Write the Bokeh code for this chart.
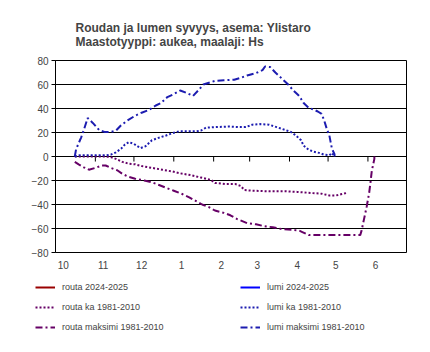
from bokeh.plotting import figure
from bokeh.layouts import column
from bokeh.models import FixedTicker, Legend, LegendItem, Range1d
from bokeh.embed import file_html
from bokeh.resources import INLINE

title_lines = ["Roudan ja lumen syvyys, asema: Ylistaro", "Maastotyyppi: aukea, maalaji: Hs"]

# x = days since 1 October
month_start_days = [0, 31, 61, 92, 123, 151, 182, 212, 243, 273]
month_labels = ["10", "11", "12", "1", "2", "3", "4", "5", "6"]
y_ticks = [-80, -60, -40, -20, 0, 20, 40, 60, 80]

series_names = ["routa 2024-2025", "lumi 2024-2025", "routa ka 1981-2010",
                "lumi ka 1981-2010", "routa maksimi 1981-2010", "lumi maksimi 1981-2010"]

# current season: no observations drawn in the chart (missing values)
routa_2024_day = [0]
routa_2024 = [float("nan")]
lumi_2024_day = [0]
lumi_2024 = [float("nan")]

lumi_ka_day = [15, 19, 27, 39, 43, 47, 51, 54, 57, 61, 66, 70, 75, 80, 86, 91, 96, 101, 109, 113,
               117, 124, 135, 143, 148, 153, 159, 166, 172, 179, 183, 187, 191, 193, 197, 201,
               205, 209, 213, 215, 217]
lumi_ka = [0, 1, 1, 1, 1.5, 3.5, 6.5, 10, 12, 10.5, 7, 8.5, 13.5, 15.5, 17.5, 19.5, 21, 21, 21, 21.5,
           24, 24.5, 25, 24.5, 24.5, 26.5, 27, 26.5, 24.5, 22, 20.5, 17.5, 13.5, 9, 5.5, 4,
           3, 1.5, 1, 3, 0]

lumi_max_day = [15, 16, 20, 22, 25, 27, 29, 34, 38, 43, 47, 51, 56, 62, 67, 73, 78, 82, 87, 92,
                97, 102, 107, 111, 115, 121, 124, 131, 139, 144, 149, 156, 161, 163, 167, 171,
                176, 181, 185, 189, 191, 193, 197, 201, 204, 207, 209, 211, 213, 214, 215, 217, 217]
lumi_max = [0, 6, 16, 22, 32, 30, 28, 22, 20.5, 20.5, 21.5, 26, 30, 34, 36.5, 39, 42.5, 44.5, 49.5, 52,
            55, 53, 50.5, 55, 60, 62, 63, 63.5, 64, 65.5, 67.5, 69.5, 72, 75, 74.5, 70,
            65, 60, 55, 51, 48, 44.5, 40.5, 39, 37.5, 35.5, 30, 23, 17.5, 12, 6.5, 2, 0]

routa_ka_day = [15, 27, 39, 43, 47, 52, 57, 62, 67, 75, 83, 91, 97, 105, 113, 121, 124, 132, 140,
                144, 147, 153, 166, 179, 188, 200, 207, 213, 218, 222, 226]
routa_ka = [0, 0, 0, -0.5, -2, -4.5, -6, -6.5, -8, -9.5, -11, -12.5, -14, -15.5, -17.5, -19.5, -22, -23, -23,
            -24.5, -28, -28.5, -29, -29, -29.5, -30.5, -31, -32.5, -32.5, -31.5, -30.5]

routa_max_day = [15, 18, 22, 26, 31, 36, 39, 43, 48, 52, 57, 62, 69, 75, 80, 87, 92, 99, 104, 109,
                 114, 119, 124, 131, 136, 141, 149, 156, 162, 169, 176, 184, 190, 192, 197, 214,
                 237, 238, 240, 242, 244, 245, 246, 248, 248]
routa_max = [-4.5, -6.5, -9, -11, -9.5, -7.5, -7.5, -9.5, -11.5, -14.5, -17, -18.5, -20, -21.5, -23.5, -26.5,
             -28.5, -31.5, -34, -37, -40, -42, -45, -47, -49, -52, -55.5, -56.5, -58, -59, -60.5, -61,
             -62, -63, -65.5, -65.5, -65.5, -62, -52, -42, -30, -21.5, -12, -2, 0]

FONT = "Liberation Sans"
RED = "#990000"
BLUE = "#0000ff"
PURPLE = "#660066"
NAVY = "#1c1cb0"
DOT = "2 2"
DASHDOT = "7 3 2 3"

styles = [
    dict(line_color=RED, line_width=2),
    dict(line_color=BLUE, line_width=2),
    dict(line_color=PURPLE, line_width=2, line_dash=DOT),
    dict(line_color=NAVY, line_width=2, line_dash=DOT),
    dict(line_color=PURPLE, line_width=2, line_dash=DASHDOT),
    dict(line_color=NAVY, line_width=2, line_dash=DASHDOT),
]
series_x = [routa_2024_day, lumi_2024_day, routa_ka_day, lumi_ka_day, routa_max_day, lumi_max_day]
series_y = [routa_2024, lumi_2024, routa_ka, lumi_ka, routa_max, lumi_max]

p = figure(width=430, height=272, x_range=Range1d(0, 273), y_range=Range1d(-80, 80),
           output_backend="svg", toolbar_location=None,
           min_border_left=55, min_border_right=24, min_border_top=60, min_border_bottom=20)
p.background_fill_color = "white"
p.border_fill_color = "white"
p.outline_line_color = "black"
p.outline_line_width = 1

p.title.text = "\n".join(title_lines)
p.title.text_font = FONT
p.title.text_font_size = "12px"
p.title.text_font_style = "bold"
p.title.text_line_height = 1.0
p.title.align = "left"
p.title.offset = 20
p.title.standoff = 24

p.xgrid.visible = False
p.ygrid.grid_line_color = "black"
p.ygrid.grid_line_width = 1
p.ygrid.ticker = FixedTicker(ticks=y_ticks)

p.yaxis.ticker = FixedTicker(ticks=y_ticks)
p.yaxis.major_tick_out = 4
p.yaxis.major_tick_in = 0
p.yaxis.minor_tick_line_color = None
p.yaxis.axis_line_color = "black"
p.yaxis.major_label_text_font = FONT
p.yaxis.major_label_text_font_size = "10px"
p.yaxis.major_label_standoff = 3

label_pos = [d + 6 for d in month_start_days[:len(month_labels)]]
p.xaxis.ticker = FixedTicker(ticks=label_pos)
p.xaxis.major_label_overrides = {pos: lab for pos, lab in zip(label_pos, month_labels)}
p.xaxis.major_tick_line_color = None
p.xaxis.minor_tick_line_color = None
p.xaxis.axis_line_color = None
p.xaxis.major_label_text_font = FONT
p.xaxis.major_label_text_font_size = "10px"
p.xaxis.major_label_standoff = 2

# month tick marks on the zero line
inner = month_start_days[1:len(month_labels)]
p.segment(x0=inner, y0=[0] * len(inner), x1=inner, y1=[-4.2] * len(inner),
          line_color="black", line_width=1)

for xs, ys, st in zip(series_x, series_y, styles):
    p.line(xs, ys, **st)

# legend panel below the chart (its own frame spans the full width)
lp = figure(width=430, height=80, x_range=Range1d(-1000, -999), y_range=Range1d(-1000, -999),
            output_backend="svg", toolbar_location=None,
            min_border_left=0, min_border_right=0, min_border_top=0, min_border_bottom=0)
lp.frame_align = False
lp.axis.visible = False
lp.grid.visible = False
lp.outline_line_color = None
lp.background_fill_color = "white"
lp.border_fill_color = "white"
legend_renderers = [lp.line(xs, ys, **st) for xs, ys, st in zip(series_x, series_y, styles)]

def make_legend(idx, loc):
    lg = Legend(items=[LegendItem(label=series_names[i], renderers=[legend_renderers[i]]) for i in idx],
                location=loc, orientation="vertical",
                label_text_font=FONT, label_text_font_size="9px",
                glyph_width=20, glyph_height=20, label_height=20, label_standoff=7,
                spacing=0, padding=0, margin=0,
                border_line_color=None, background_fill_alpha=0)
    lp.add_layout(lg, "center")

make_legend([0, 2, 4], (35, 15))
make_legend([1, 3, 5], (240, 15))

layout = column(p, lp, spacing=0)
open("out.html", "w").write(file_html(layout, INLINE))
